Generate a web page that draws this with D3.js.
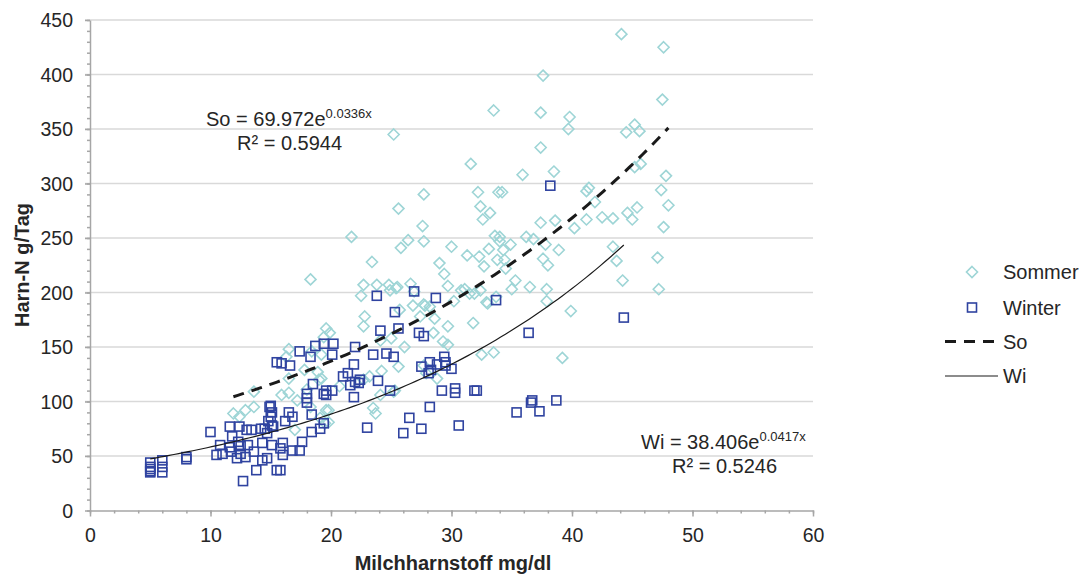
<!DOCTYPE html>
<html>
<head>
<meta charset="utf-8">
<script src="https://cdn.jsdelivr.net/npm/d3@7"></script>
<style>
  body { margin: 0; background: #fff; }
  svg { font-family: Arial, "Liberation Sans", sans-serif; }
</style>
</head>
<body>
<svg id="vis" width="1088" height="577"></svg>
<script>
// Sommer points [Milchharnstoff mg/dl, Harn-N g/Tag]
var sommer = [
  [44.1,437],[47.6,425],[37.6,399],[37.4,365],[39.8,361],[39.7,350],[37.4,333],[47.5,377],
  [44.5,347],[45.2,354],[45.6,348],[45.7,318],[45.2,315],[47.8,307],[47.4,294],[48.0,280],
  [47.6,260],[47.1,232],[47.2,203],[35.9,308],[38.5,311],[34.2,292],[41.2,293],[41.4,296],
  [41.9,283],[37.4,264],[38.6,266],[40.2,259],[41.2,267],[42.5,269],[43.4,268],[44.6,273],
  [45.0,267],[45.4,278],[33.5,367],[36.2,251],[36.8,249],[37.8,244],[34.9,244],[34.3,239],
  [34.0,251],[38.9,239],[37.6,231],[38.0,225],[34.4,230],[34.5,222],[43.4,242],[43.7,229],
  [44.2,211],[35.3,211],[35.0,203],[36.5,205],[37.9,203],[37.9,192],[39.9,183],[31.6,318],
  [25.2,345],[27.7,290],[32.2,292],[33.9,292],[25.6,277],[32.4,279],[33.2,273],[32.6,267],
  [27.6,261],[26.4,248],[25.8,241],[27.7,247],[30.0,242],[33.6,252],[34.0,247],[31.3,234],
  [32.3,233],[33.1,240],[29.0,227],[29.4,217],[32.7,224],[33.8,230],[29.7,206],[25.5,205],
  [31.1,203],[32.4,202],[31.5,199],[32.9,191],[33.7,196],[27.7,189],[30.2,192],[24.9,202],
  [30.8,202],[31.9,199],[26.9,201],[26.6,208],[21.7,251],[23.4,228],[18.3,212],[22.7,207],
  [23.8,207],[24.8,207],[25.4,204],[22.5,197],[26.8,188],[27.8,188],[28.6,176],[29.7,169],
  [31.8,172],[33.0,190],[22.8,178],[22.7,169],[25.7,184],[27.4,178],[28.5,163],[26.1,150],
  [29.3,155],[29.7,152],[32.5,143],[33.5,145],[39.2,140],[24.2,128],[23.2,123],[25.6,132],
  [27.9,126],[28.8,121],[19.6,167],[19.4,159],[24.1,156],[25.0,158],[22.7,120],[28.2,187],
  [27.7,133],[19.8,92],[23.5,94],[23.7,89],[24.1,106],[25.3,110],[20.7,114],[19.1,85],
  [19.8,81],[19.9,163],[16.5,148],[16.3,141],[18.4,146],[19.2,143],[18.9,127],[17.8,129],
  [16.5,121],[15.9,106],[16.5,108],[17.2,101],[18.0,111],[19.0,120],[13.6,109],[11.9,89],
  [12.9,92],[13.6,95],[12.4,86],[18.3,95],[19.6,92],[17.0,74],[19.5,80],[25.2,109],[19.2,121]
];

// Winter points
var winter = [
  [5,44],[5,40],[5,38],[5,36],[5,35],[6,46],[6,40],[6,35],[8,49],[8,47],[10,72],[10.5,51],
  [10.8,60],[11,52],[11.6,77],[11.8,68],[11.6,58],[11.7,54],[12.4,77],[12.3,63],[12.2,48],
  [12.5,59],[12.5,52],[12.7,27],[12.9,49],[13.0,74],[13.4,74],[13.1,60],[13.6,54],[13.8,37],
  [14.2,75],[14.3,62],[14.3,46],[14.7,48],[14.7,71],[14.5,75],[14.8,82],[15.0,96],[15.1,90],
  [15.0,86],[15.1,78],[15.1,60],[15.5,37],[15.8,37],[15.8,57],[16.0,62],[16.0,51],[16.2,82],
  [16.5,90],[16.8,86],[16.8,55],[17.4,55],[17.6,63],[18.0,107],[18.0,103],[18.0,99],[18.4,88],
  [18.4,72],[18.5,116],[19.1,75],[19.4,80],[19.4,107],[19.6,106],[19.6,110],[20.1,110],
  [21.9,104],[21.6,115],[22.3,117],[15.5,136],[15.9,135],[16.6,133],[17.4,146],[18.3,141],
  [18.7,151],[19.4,153],[20.2,153],[20.1,143],[22.0,150],[21.9,134],[21.4,126],[21.0,123],
  [22.0,118],[22.4,120],[23.9,119],[24.9,110],[25.3,182],[24.1,165],[25.6,167],[27.3,163],
  [27.7,160],[23.5,143],[24.6,144],[25.2,141],[27.5,132],[28.2,136],[28.3,129],[28.1,126],
  [28.8,134],[29.4,141],[29.5,136],[29.5,133],[30.0,130],[29.2,110],[30.3,112],[30.3,108],
  [31.9,110],[32.1,110],[28.2,95],[26.5,85],[26.0,71],[27.5,75],[30.6,78],[23.0,76],[35.4,90],
  [36.6,99],[36.7,101],[37.3,91],[38.7,101],[26.9,201],[28.7,195],[33.7,193],[23.8,197],
  [38.2,298],[36.4,163],[44.3,177],[15.2,77],[14.9,95]
];

// exponential trend lines: y = a * e^(b x)
var trendSo = {a: 69.972, b: 0.0336, r2: "0.5944"};
var trendWi = {a: 38.406, b: 0.0417, r2: "0.5246"};

var xTicks = [0, 10, 20, 30, 40, 50, 60];
var yTicks = [0, 50, 100, 150, 200, 250, 300, 350, 400, 450];

var svg = d3.select("#vis");
var textCol = "#262626";

var x = d3.scaleLinear().domain([0, 60]).range([90, 813]);
var y = d3.scaleLinear().domain([0, 450]).range([510.5, 20]);

// gridlines
svg.append("g")
  .selectAll("line")
  .data(yTicks.slice(1))
  .enter().append("line")
    .attr("x1", 85).attr("x2", x(60))
    .attr("y1", function(d) { return y(d); })
    .attr("y2", function(d) { return y(d); })
    .attr("stroke", "#d9d9d9")
    .attr("stroke-width", 1.5);

// y axis with minor ticks
svg.append("g")
  .attr("transform", "translate(" + x(0) + ",0)")
  .call(d3.axisLeft(y).tickValues(d3.range(0, 451, 10)).tickSize(3).tickFormat(""))
  .call(function(g) { g.select(".domain").remove(); });

var yAxis = svg.append("g")
  .attr("transform", "translate(" + x(0) + ",0)")
  .call(d3.axisLeft(y).tickValues(yTicks).tickSize(5).tickSizeOuter(0).tickPadding(12));

// x axis with minor ticks
svg.append("g")
  .attr("transform", "translate(0," + y(0) + ")")
  .call(d3.axisBottom(x).tickValues(d3.range(0, 61, 2)).tickSize(3).tickFormat(""))
  .call(function(g) { g.select(".domain").remove(); });

var xAxis = svg.append("g")
  .attr("transform", "translate(0," + y(0) + ")")
  .call(d3.axisBottom(x).tickValues(xTicks).tickSize(6).tickSizeOuter(0).tickPadding(12));

svg.selectAll(".domain, .tick line")
  .attr("stroke", "#a6a6a6")
  .attr("stroke-width", 1.5);
svg.selectAll(".tick text")
  .attr("fill", textCol)
  .style("font-size", "19.5px");
yAxis.selectAll(".tick text").attr("dy", "0.35em");

// axis titles
svg.append("text")
  .attr("x", 453).attr("y", 570)
  .attr("text-anchor", "middle")
  .attr("font-weight", "bold")
  .attr("font-size", "20px")
  .attr("fill", textCol)
  .text("Milchharnstoff mg/dl");

svg.append("text")
  .attr("transform", "translate(29,265) rotate(-90)")
  .attr("text-anchor", "middle")
  .attr("font-weight", "bold")
  .attr("font-size", "20px")
  .attr("fill", textCol)
  .text("Harn-N g/Tag");

// points
svg.append("g")
  .selectAll("path")
  .data(sommer)
  .enter().append("path")
    .attr("transform", function(d) { return "translate(" + x(d[0]) + "," + y(d[1]) + ")"; })
    .attr("d", "M0,-5.5L5.5,0L0,5.5L-5.5,0Z")
    .attr("fill", "none")
    .attr("stroke", "#9ed5d6")
    .attr("stroke-width", 1.6);

svg.append("g")
  .selectAll("rect")
  .data(winter)
  .enter().append("rect")
    .attr("x", function(d) { return x(d[0]) - 4.5; })
    .attr("y", function(d) { return y(d[1]) - 4.5; })
    .attr("width", 9).attr("height", 9)
    .attr("fill", "none")
    .attr("stroke", "#2f43a0")
    .attr("stroke-width", 1.6);

// trend lines
function trend(t, x0, x1) {
  return d3.range(0, 101).map(function(i) {
    var xv = x0 + (x1 - x0) * i / 100;
    return [xv, t.a * Math.exp(t.b * xv)];
  });
}
var line = d3.line()
  .x(function(d) { return x(d[0]); })
  .y(function(d) { return y(d[1]); });

var soExt = d3.extent(sommer, function(d) { return d[0]; });
var wiExt = d3.extent(winter, function(d) { return d[0]; });

svg.append("path")
  .attr("d", line(trend(trendSo, soExt[0], soExt[1])))
  .attr("fill", "none")
  .attr("stroke", "#1a1a1a")
  .attr("stroke-width", 3)
  .attr("stroke-dasharray", "11,8");

svg.append("path")
  .attr("d", line(trend(trendWi, wiExt[0], wiExt[1])))
  .attr("fill", "none")
  .attr("stroke", "#1a1a1a")
  .attr("stroke-width", 1.2);

// equation labels
function equation(name, t, xs, ys, anchorX) {
  var g = svg.append("g").attr("fill", textCol);
  var eq = g.append("text")
    .attr("x", xs).attr("y", ys)
    .attr("font-size", "20px");
  eq.append("tspan").text(name + " = " + t.a.toFixed(3) + "e");
  eq.append("tspan").attr("dy", -8).attr("font-size", "13px").text(t.b.toFixed(4) + "x");
  g.append("text")
    .attr("x", anchorX).attr("y", ys + 24)
    .attr("font-size", "20px")
    .text("R\u00b2 = " + t.r2);
}
equation("So", trendSo, 206, 126, 237);
equation("Wi", trendWi, 641, 449, 672);

// legend
var legend = svg.append("g").attr("fill", textCol).attr("font-size", "20px");
legend.append("path")
  .attr("transform", "translate(972,272)")
  .attr("d", "M0,-5.5L5.5,0L0,5.5L-5.5,0Z")
  .attr("fill", "none").attr("stroke", "#9ed5d6").attr("stroke-width", 1.6);
legend.append("rect")
  .attr("x", 967.5).attr("y", 303).attr("width", 9).attr("height", 9)
  .attr("fill", "none").attr("stroke", "#2f43a0").attr("stroke-width", 1.6);
legend.append("line")
  .attr("x1", 945).attr("x2", 998).attr("y1", 341.5).attr("y2", 341.5)
  .attr("stroke", "#1a1a1a").attr("stroke-width", 3).attr("stroke-dasharray", "11,8");
legend.append("line")
  .attr("x1", 945).attr("x2", 998).attr("y1", 376).attr("y2", 376)
  .attr("stroke", "#1a1a1a").attr("stroke-width", 1.2);

var legendLabels = ["Sommer", "Winter", "So", "Wi"];
var legendY = [272, 307.5, 341.5, 376];
legend.selectAll("text.lbl")
  .data(legendLabels)
  .enter().append("text")
    .attr("class", "lbl")
    .attr("x", 1003)
    .attr("y", function(d, i) { return legendY[i]; })
    .attr("dy", "0.35em")
    .text(function(d) { return d; });
</script>
</body>
</html>
